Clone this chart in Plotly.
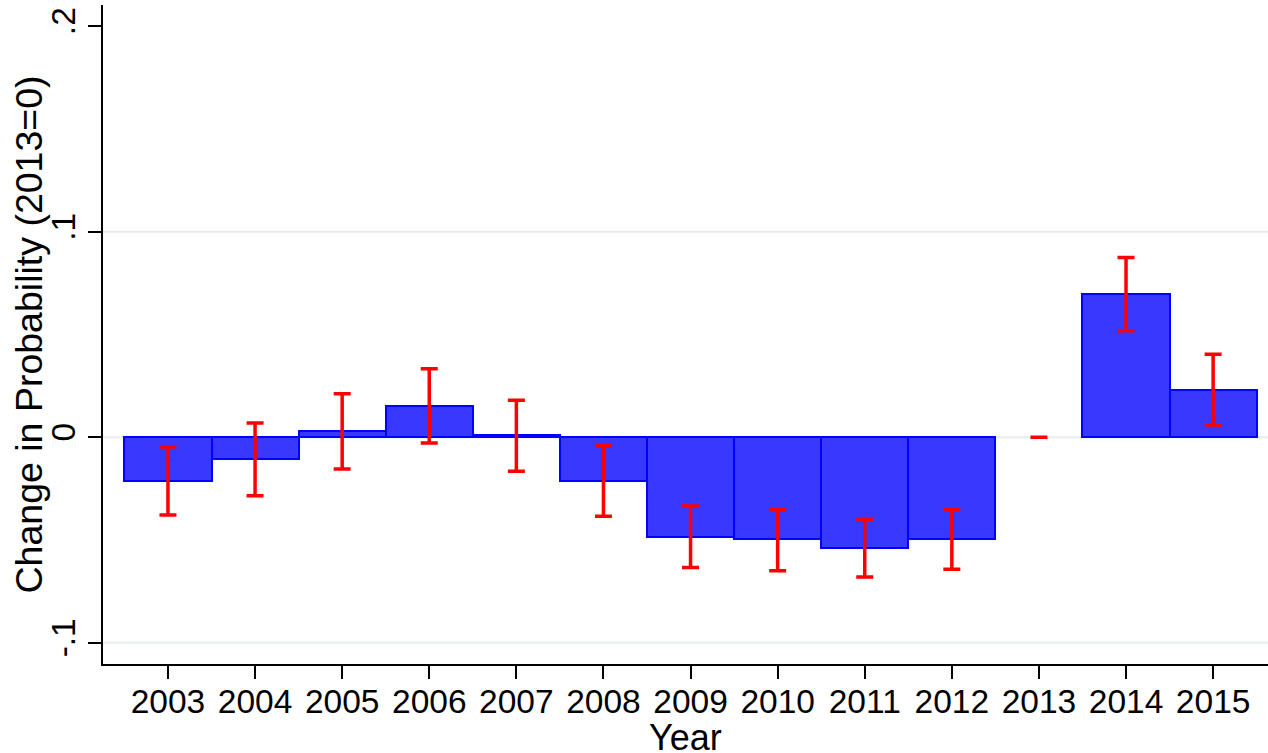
import plotly.graph_objects as go

years = [2003, 2004, 2005, 2006, 2007, 2008, 2009, 2010, 2011, 2012, 2013, 2014, 2015]
coef = [-0.0211, -0.0107, 0.0031, 0.0154, 0.0011, -0.0213, -0.0483, -0.0496, -0.0538, -0.0495, 0.0, 0.0697, 0.0230]
ci_low = [-0.0378, -0.0284, -0.0154, -0.0028, -0.0165, -0.0384, -0.0634, -0.0649, -0.0680, -0.0642, 0.0, 0.0518, 0.0060]
ci_high = [-0.0047, 0.0070, 0.0212, 0.0333, 0.0180, -0.0041, -0.0334, -0.0350, -0.0399, -0.0352, 0.0, 0.0875, 0.0404]
y_ticks = [-0.1, 0, 0.1, 0.2]
y_tick_labels = ["-.1", "0", ".1", ".2"]

err_plus = [h - c for h, c in zip(ci_high, coef)]
err_minus = [c - l for c, l in zip(coef, ci_low)]
line_widths = [0 if c == 0 else 2 for c in coef]

FONT = "Liberation Sans, Arial, Helvetica, sans-serif"

fig = go.Figure()
fig.add_trace(go.Bar(
    x=years, y=coef, width=1,
    marker=dict(color="rgb(56,56,255)", line=dict(color="#0000ff", width=line_widths)),
    error_y=dict(type="data", symmetric=False, array=err_plus, arrayminus=err_minus,
                 color="#ff0000", thickness=3.5, width=8.5),
    showlegend=False,
))

for g in [-0.1, 0, 0.1]:
    fig.add_shape(type="line", xref="paper", yref="y", x0=0, x1=1, y0=g, y1=g,
                  line=dict(color="#e4edf0", width=2), layer="below")

fig.add_annotation(text="Year", xref="paper", yref="paper", x=0.5, y=0, yshift=-73,
                   yanchor="middle", xanchor="center", showarrow=False,
                   font=dict(family=FONT, size=36, color="black"))
fig.add_annotation(text="Change in Probability (2013=0)", xref="paper", yref="paper",
                   x=0, y=0.5, xshift=-75, xanchor="center", yanchor="middle",
                   textangle=-90, showarrow=False,
                   font=dict(family=FONT, size=37.5, color="black"))

fig.update_layout(
    width=1268, height=753,
    margin=dict(l=103, r=0, t=5, b=89),
    paper_bgcolor="white", plot_bgcolor="white",
    bargap=0,
    font=dict(family=FONT, size=33, color="black"),
    xaxis=dict(
        range=[2002.254, 2015.63], tickmode="array", tickvals=years,
        ticktext=[str(y) for y in years],
        showline=True, linecolor="black", linewidth=1.5,
        ticks="outside", ticklen=13, tickwidth=1.5, tickcolor="black",
        showgrid=False, zeroline=False, automargin=False,
        ticklabelstandoff=-6,
        tickfont=dict(size=33.5),
    ),
    yaxis=dict(
        range=[-0.1103, 0.2103], tickmode="array", tickvals=y_ticks, ticktext=y_tick_labels,
        tickangle=-90,
        showline=True, linecolor="black", linewidth=1.5,
        ticks="outside", ticklen=13, tickwidth=1.5, tickcolor="black",
        showgrid=False, zeroline=False, automargin=False,
        tickfont=dict(size=33.5),
    ),
)

fig.write_html("out.html", config={"displayModeBar": False},
               post_script="document.body.style.margin='0';")
